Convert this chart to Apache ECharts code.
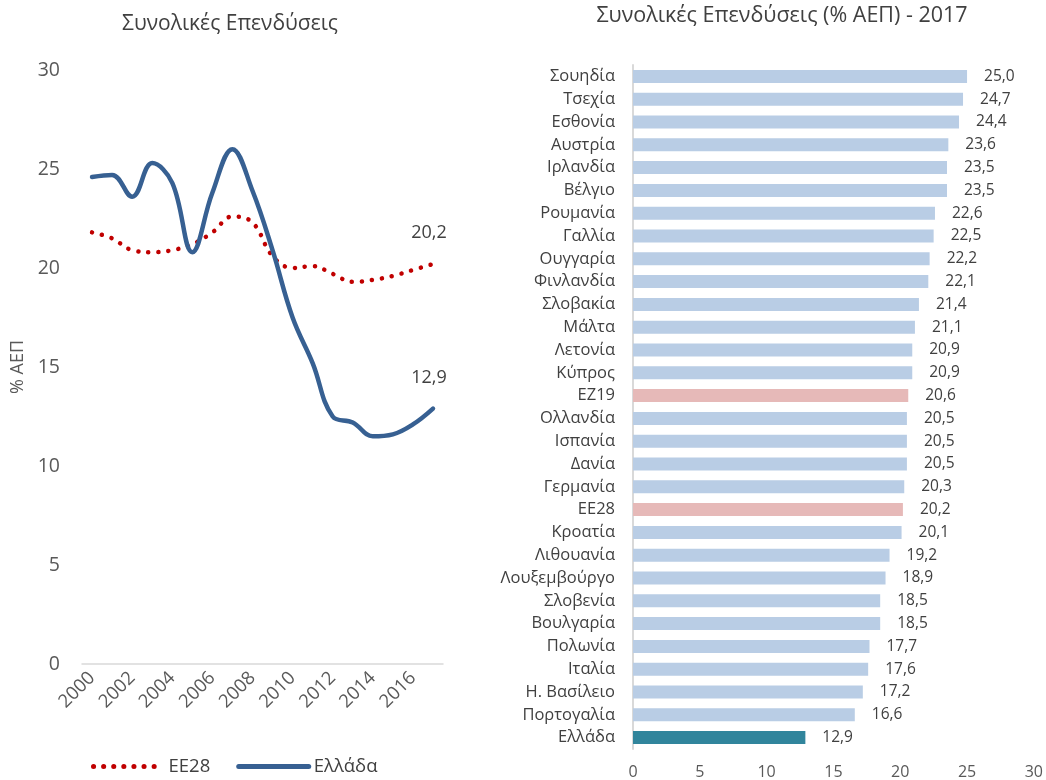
<!DOCTYPE html>
<html>
<head>
<meta charset="utf-8">
<script src="https://cdn.jsdelivr.net/npm/echarts@6/dist/echarts.min.js"></script>
<style>
  html, body { margin: 0; padding: 0; background: #fff; }
  #chart { width: 1046px; height: 780px; }
</style>
</head>
<body>
<div id="chart"></div>
<script>
// left panel: time series
const years = ['2000','2001','2002','2003','2004','2005','2006','2007','2008','2009',
  '2010','2011','2012','2013','2014','2015','2016','2017']
const eu28 = [21.8, 21.5, 20.9, 20.8, 20.9, 21.2, 21.8, 22.6, 22.3, 20.6,
  20.0, 20.1, 19.7, 19.3, 19.4, 19.6, 19.9, 20.2]
const greece = [24.6, 24.7, 23.6, 25.3, 24.3, 20.8, 23.8, 26.0, 23.9, 20.9,
  17.5, 15.2, 12.5, 12.2, 11.5, 11.6, 12.1, 12.9]

// right panel: 2017 ranking
const countries = ['Σουηδία','Τσεχία','Εσθονία','Αυστρία','Ιρλανδία','Βέλγιο','Ρουμανία','Γαλλία',
  'Ουγγαρία','Φινλανδία','Σλοβακία','Μάλτα','Λετονία','Κύπρος','ΕΖ19','Ολλανδία','Ισπανία',
  'Δανία','Γερμανία','ΕΕ28','Κροατία','Λιθουανία','Λουξεμβούργο','Σλοβενία','Βουλγαρία',
  'Πολωνία','Ιταλία','Η. Βασίλειο','Πορτογαλία','Ελλάδα']
const invest2017 = [25.0, 24.7, 24.4, 23.6, 23.5, 23.5, 22.6, 22.5, 22.2, 22.1, 21.4, 21.1,
  20.9, 20.9, 20.6, 20.5, 20.5, 20.5, 20.3, 20.2, 20.1, 19.2, 18.9, 18.5, 18.5, 17.7, 17.6,
  17.2, 16.6, 12.9]

const FONT = 'Open Sans'
const fmt = v => v.toFixed(1).replace('.', ',')

// colour for each bar
const barColor = name => {
  if (name === 'Ελλάδα') return '#31859C'
  if (name === 'ΕΕ28' || name === 'ΕΖ19') return '#E6B9B8'
  return '#B9CDE5'
}

// value label above the last point of a line
const endLabel = {
  show: true, distance: 0, offset: [-4, -31], align: 'center',
  formatter: p => fmt(p.value), fontFamily: FONT, fontSize: 18, color: '#404040'
}

const chart = echarts.init(document.getElementById('chart'))

const option = {
  animation: false,
  textStyle: { fontFamily: FONT },
  title: [
    { text: 'Συνολικές Επενδύσεις', left: 225, top: 9, textAlign: 'center',
      textStyle: { fontFamily: FONT, fontSize: 21, fontWeight: 'normal', color: '#404040' } },
    { text: 'Συνολικές Επενδύσεις (% ΑΕΠ) - 2017', left: 777, top: 0, textAlign: 'center',
      textStyle: { fontFamily: FONT, fontSize: 21.5, fontWeight: 'normal', color: '#404040' } }
  ],
  legend: {
    left: 86, top: 752,
    itemWidth: 70, itemHeight: 10, itemGap: 26,
    itemStyle: { opacity: 0 },
    lineStyle: { width: 5 },
    textStyle: { fontFamily: FONT, fontSize: 18.5, color: '#404040' },
    data: ['ΕΕ28', 'Ελλάδα']
  },
  grid: [
    { left: 82, width: 361, top: 70, height: 594 },
    { left: 633, width: 402, top: 65, height: 685 }
  ],
  xAxis: [
    {
      gridIndex: 0, type: 'category', data: years, boundaryGap: true,
      axisLine: { lineStyle: { color: '#D9D9D9', width: 1.5 } },
      axisTick: { show: false },
      axisLabel: { interval: 1, rotate: 45, fontSize: 18.5, color: '#595959', margin: 11 }
    },
    {
      gridIndex: 1, type: 'value', min: 0, max: 30, interval: 5,
      axisLine: { show: false }, axisTick: { show: false }, splitLine: { show: false },
      axisLabel: { fontSize: 16, color: '#595959', margin: 15 }
    }
  ],
  yAxis: [
    {
      gridIndex: 0, type: 'value', min: 0, max: 30, interval: 5,
      name: '% ΑΕΠ', nameLocation: 'middle', nameGap: 55, nameRotate: 90,
      nameTextStyle: { fontSize: 18, color: '#595959' },
      axisLine: { show: false }, axisTick: { show: false }, splitLine: { show: false },
      axisLabel: { fontSize: 19.5, color: '#595959', margin: 22 }
    },
    {
      gridIndex: 1, type: 'category', data: countries, inverse: true,
      axisLine: { lineStyle: { color: '#D9D9D9', width: 2 } },
      axisTick: { show: false },
      axisLabel: { fontSize: 16.5, color: '#404040', margin: 18 }
    }
  ],
  series: [
    {
      name: 'ΕΕ28', type: 'line', xAxisIndex: 0, yAxisIndex: 0,
      data: eu28, smooth: 0.4, symbol: 'none',
      lineStyle: { color: '#C00000', width: 4.5, type: [0.1, 10], cap: 'round' },
      itemStyle: { color: '#C00000' },
      endLabel: endLabel
    },
    {
      name: 'Ελλάδα', type: 'line', xAxisIndex: 0, yAxisIndex: 0,
      data: greece, smooth: 0.4, symbol: 'none',
      lineStyle: { color: '#376092', width: 4.5, cap: 'round' },
      itemStyle: { color: '#376092' },
      endLabel: endLabel
    },
    {
      type: 'bar', xAxisIndex: 1, yAxisIndex: 1, barWidth: '57%',
      data: invest2017.map((v, i) => ({ value: v, itemStyle: { color: barColor(countries[i]) } })),
      label: { show: true, position: 'right', distance: 17, formatter: p => fmt(p.value),
        fontSize: 15.5, color: '#404040' }
    }
  ]
}

chart.setOption(option)
</script>
</body>
</html>
